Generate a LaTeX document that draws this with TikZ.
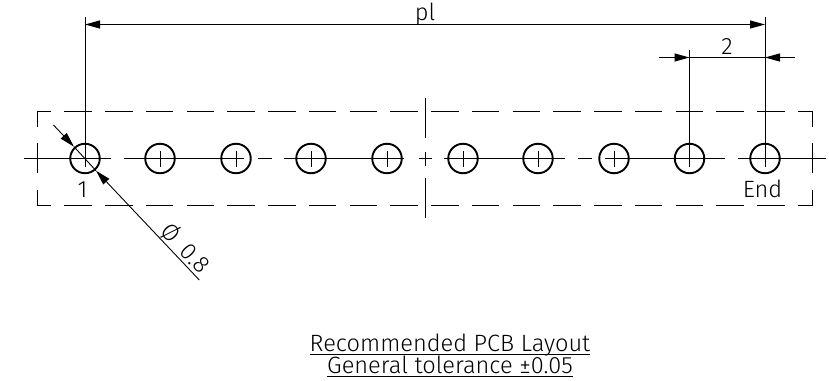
\documentclass[tikz,border=0pt]{standalone}
\usepackage{fontspec}
\setmainfont{Fira Sans Light}
\usetikzlibrary{arrows.meta,calc}
\tikzset{
  x=1pt,y=-1pt,
  hole/.style={circle,draw=black,line width=1.9pt,minimum size=29.5pt,inner sep=0pt},
  thin line/.style={draw=black,line width=1pt},
  tick/.style={draw=black,line width=0.9pt},
  leader/.style={draw=black,line width=0.9pt},
  dashline/.style={draw=black,line width=1pt,dash pattern=on 27.5pt off 13.25pt},
  dim/.style={draw=black,line width=1pt,-{Triangle[length=15pt,width=8pt]}},
  dimboth/.style={draw=black,line width=1pt,{Triangle[length=15pt,width=8pt]}-{Triangle[length=15pt,width=8pt]}},
  lbl/.style={inner sep=0pt,anchor=base,font=\fontsize{23.6}{23.6}\selectfont,text=black},
}
\begin{document}
\begin{tikzpicture}
\useasboundingbox (0,0) rectangle (829,380);
% centre line
\draw[thin line] (24,158.5) -- (111,158.5);
\draw[thin line] (124,158.5) -- (244,158.5);
\draw[thin line] (258,158.5) -- (272,158.5);
\draw[thin line] (284,158.5) -- (404,158.5);
\draw[thin line] (418.5,158.5) -- (431.5,158.5);
\draw[thin line] (444,158.5) -- (565,158.5);
\draw[thin line] (578,158.5) -- (592,158.5);
\draw[thin line] (605,158.5) -- (725,158.5);
\draw[thin line] (738,158.5) -- (826,158.5);
% holes
\foreach \n/\hx in {1/85,2/160,3/236,4/311,5/387,6/463,7/538,8/614,9/689.5,10/765}{
  \node[hole] (h\n) at (\hx,158.5) {};
  \draw[tick] (\hx,150.5) -- (\hx,166.5);
}
% outline, dashed
\draw[dashline] (64.3,111) -- (418,111);
\draw[dashline] (431,111) -- (785,111);
\draw[dashline] (64.3,205.5) -- (418,205.5);
\draw[dashline] (431,205.5) -- (785,205.5);
\draw[thin line] (51,111) -- (37,111) -- (37,126.5);
\draw[thin line] (51,205.5) -- (37,205.5) -- (37,190);
\draw[thin line] (37,143) -- (37,173);
\draw[thin line] (798,111) -- (812,111) -- (812,126.5);
\draw[thin line] (798,205.5) -- (812,205.5) -- (812,190);
\draw[thin line] (812,143) -- (812,173);
% symmetry line
\draw[thin line] (425,98) -- (425,138);
\draw[thin line] (425,151.5) -- (425,165.5);
\draw[thin line] (425,178) -- (425,218);
% extension lines
\coordinate (e1) at (85,17);
\coordinate (e9) at (689.5,50);
\coordinate (e10) at (765,17);
\draw[thin line] (e1) -- (h1.center);
\draw[thin line] (e9) -- (h9.center);
\draw[thin line] (e10) -- (h10.center);
% dimensions
\coordinate (p1) at (85,24.5);
\coordinate (p2) at (765,24.5);
\draw[dimboth] (p1) -- (p2);
\coordinate (d0) at (659,57.5);
\coordinate (d1) at (689.5,57.5);
\coordinate (d2) at (765,57.5);
\coordinate (d3) at (795,57.5);
\draw[dim] (d0) -- (d1);
\draw[thin line] (d1) -- (d2);
\draw[dim] (d3) -- (d2);
% diameter leader
\coordinate (l0) at (53.5,125);
\coordinate (l1) at (74,146.7);
\coordinate (l2) at (199.3,280);
\coordinate (l3) at (96,170.7);
\draw[leader] (l1) -- (l3);
\draw[dim,line width=0.9pt] (l0) -- (l1);
\draw[dim,line width=0.9pt] (l2) -- (l3);
% labels
\node[lbl] (tpl) at (425,20) {pl};
\node[lbl] (t2) at (727,54) {2};
\node[lbl] (t1) at (82.5,197.5) {1};
\node[lbl] (tend) at (762.5,197) {End};
\node[lbl,rotate=-46.7] (tdia) at (179.5,253.5) {Ø\hspace{0.25em} 0.8};
\node[lbl] (tt1) at (450,351.5) {Recommended PCB Layout};
\node[lbl] (tt2) at (450,373.5) {General tolerance ±0.05};
\draw[thin line] ([yshift=-3pt]tt1.base west) -- ([yshift=-3pt]tt1.base east);
\draw[thin line] ([yshift=-3pt]tt2.base west) -- ([yshift=-3pt]tt2.base east);
\end{tikzpicture}
\end{document}
